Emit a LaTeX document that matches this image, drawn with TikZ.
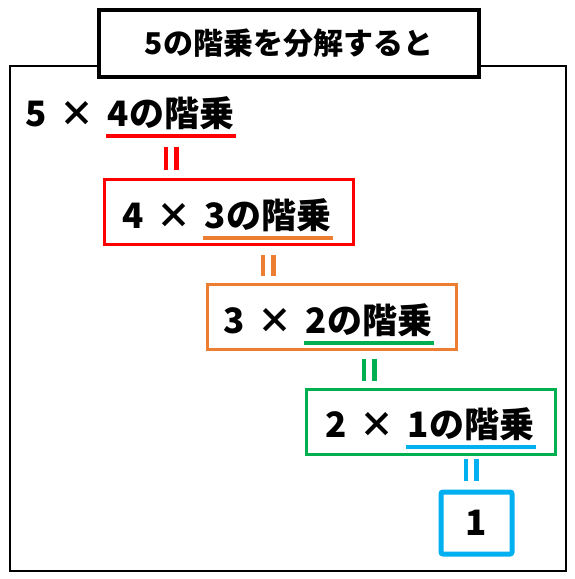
\documentclass[tikz,border=0pt]{standalone}
\usepackage{fontspec}
\setmainfont{Noto Sans CJK JP}
\usetikzlibrary{positioning}
\definecolor{xlred}{RGB}{255,0,0}
\definecolor{xlorange}{RGB}{237,125,49}
\definecolor{xlgreen}{RGB}{0,176,80}
\definecolor{xlblue}{RGB}{0,176,240}
\newcommand{\gapx}{\hspace{13pt}}
\tikzset{
    frame/.style = {draw, line width=2pt},
    title/.style = {draw, fill=white, line width=4pt,
        minimum width=380pt,
        minimum height=67pt,
        font=\bfseries\fontsize{30}{30}\selectfont},
    stepbox/.style = {draw, rectangle, line width=3pt,
        minimum width=249pt,
        minimum height=65pt},
    lastbox/.style = {stepbox, line width=5pt, rounded corners=2pt,
        minimum width=71pt,
        minimum height=62pt,
        font=\bfseries\fontsize{35}{35}\selectfont},
    lhs/.style = {inner sep=0pt, font=\bfseries\fontsize{35}{35}\selectfont},
    rest/.style = {lhs, inner xsep=2pt, inner ysep=6pt},
    uline/.style = {line width=4pt},
    eqlink/.style = {line width=4.5pt, double=white, double distance=6pt},
}

\begin{document}
\begin{tikzpicture}[x=1pt, y=-1pt, node distance=11pt]
		\useasboundingbox (0,0) rectangle (575,579);
		% outer frame
		\draw [frame] (9.5,66) rectangle (566,570.5);
		% title
		\node [title] (title) at (289,43.5) {5の階乗を分解すると};
		
		% boxes
		\node [stepbox, draw=xlred] (box4) at (228.75,212) {};
		\node [stepbox, draw=xlorange] (box3) at (331.5,317.25) {};
		\node [stepbox, draw=xlgreen] (box2) at (430.75,421.75) {};
		\node [lastbox, draw=xlblue] (box1) at (476.5,523) {1};
		
		% 5 x 4
		\node [lhs, anchor=base west] (lhs5) at (25,126) {5\gapx ×};
		\node [rest, base right=of lhs5] (rest5) {4の階乗\hspace{10pt}};
		% 4 x 3
		\node [lhs, anchor=base west] (lhs4) at (122,228) {4\gapx ×};
		\node [rest, base right=of lhs4] (rest4) {3の階乗};
		% 3 x 2
		\node [lhs, anchor=base west] (lhs3) at (223,333) {3\gapx ×};
		\node [rest, base right=of lhs3] (rest3) {2の階乗};
		% 2 x 1
		\node [lhs, anchor=base west] (lhs2) at (325,437) {2\gapx ×};
		\node [rest, base right=of lhs2] (rest2) {1の階乗};
		
		% underlines
		\foreach \n/\c in {rest5/xlred, rest4/xlorange, rest3/xlgreen, rest2/xlblue}
			\draw [uline, \c] (\n.south west) -- (\n.south east);
		
		% equal signs
		\foreach \a/\b/\c/\s/\e in {rest5/box4/xlred/11/8.5, rest4/box3/xlorange/17/7.5,
				rest3/box2/xlgreen/16/6.5, rest2/box1/xlblue/12/9}
			\draw [eqlink, \c, shorten <=\s pt, shorten >=\e pt] (\a.south) -- (\a.south |- \b.north);
	\end{tikzpicture}
\end{document}
